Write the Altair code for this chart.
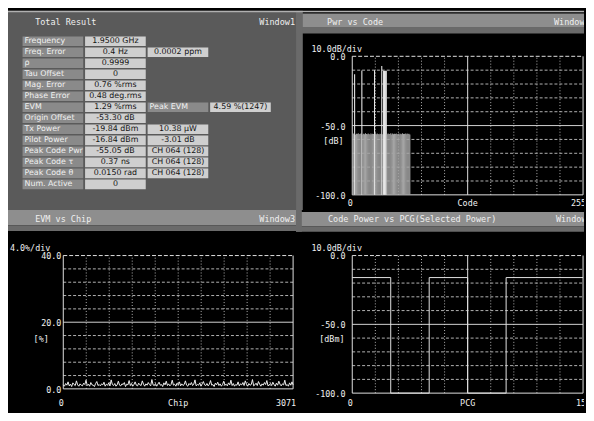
import altair as alt
import pandas as pd
import numpy as np

# ---------------- data ----------------
TABLE_LABELS = ["Frequency", "Freq. Error", "ρ", "Tau Offset", "Mag. Error", "Phase Error",
                "EVM", "Origin Offset", "Tx Power", "Pilot Power", "Peak Code Pwr",
                "Peak Code τ", "Peak Code θ", "Num. Active"]
TABLE_VALUES = ["1.9500 GHz", "0.4 Hz", "0.9999", "0", "0.76 %rms", "0.48 deg.rms",
                "1.29 %rms", "-53.30 dB", "-19.84 dBm", "-16.84 dBm", "-55.05 dB",
                "0.37 ns", "0.0150 rad", "0"]
TABLE_EXTRA = ["", "0.0002 ppm", "", "", "", "", "Peak EVM", "", "10.38 μW", "-3.01 dB",
               "CH 064 (128)", "CH 064 (128)", "CH 064 (128)", ""]
TABLE_EXTRA2 = ["", "", "", "", "", "", "4.59 %(1247)", "", "", "", "", "", "", ""]

CDP_DOMAIN = [0, 255]
CDP_YDOMAIN = [-100, 0]
CDP_DB = [
    -56.2, -55.8, -13.0, -56.5, -55.9, -56.1, -55.6, -56.3, -56.0, -55.7, -10.2, -56.4, -55.9, -56.2, -55.5, -56.1,
    -56.3, -55.8, -56.0, -56.6, -55.7, -56.2, -55.9, -56.1, -10.0, -55.6, -56.3, -55.8, -56.0, -56.4, -55.9, -56.1,
    -7.0, -56.2, -10.5, -10.6, -10.5, -10.4, -56.3, -55.7, -56.1, -56.0, -55.6, -56.4, -55.8, -56.2, -55.9, -56.1,
    -55.7, -56.3, -56.0, -55.8, -56.5, -55.9, -56.2, -55.6, -56.1, -56.0, -55.8, -56.3, -55.7, -56.1, -55.9, -56.4,
]

EVM_DOMAIN = [0, 3071]
EVM_YDOMAIN = [0, 40]
EVM_PCT = [
    1.2, 0.8, 1.6, 1.1, 2.1, 0.9, 1.4, 0.7, 1.8, 1.3, 1.0, 2.4, 1.2, 0.8, 1.5, 1.1,
    0.9, 1.7, 1.3, 2.6, 1.0, 1.4, 0.8, 1.9, 1.2, 1.1, 0.7, 1.6, 2.2, 1.0, 1.3, 0.9,
    1.5, 1.2, 2.0, 0.8, 1.4, 1.1, 1.8, 0.9, 2.7, 1.3, 1.0, 1.6, 0.8, 1.2, 2.3, 1.1,
    0.9, 1.5, 1.3, 1.9, 0.7, 1.4, 1.2, 2.5, 1.0, 1.6, 0.8, 1.3, 2.1, 1.1, 0.9, 1.7,
    1.2, 1.0, 2.4, 1.4, 0.8, 1.5, 1.1, 1.9, 1.3, 0.9, 2.8, 1.2, 1.0, 1.6, 0.8, 1.4,
    2.0, 1.1, 1.3, 0.7, 1.8, 1.2, 2.3, 1.0, 1.5, 0.9, 1.3, 2.6, 1.1, 1.4, 0.8, 1.7,
    1.2, 2.1, 0.9, 1.5, 1.0, 1.3, 2.4, 1.1, 0.8, 1.6, 1.2, 1.9, 1.0, 1.4, 2.7, 0.9,
    1.3, 1.1, 1.8, 0.8, 1.5, 2.2, 1.2, 1.0, 1.6, 0.9, 1.4, 2.5, 1.1, 1.3, 0.7, 1.7,
    1.2, 2.0, 1.0, 1.5, 0.8, 1.3, 2.3, 1.1, 1.4, 0.9, 1.8, 1.2, 2.6, 1.0, 1.6, 0.8,
    1.3, 1.1, 2.1, 0.9, 1.5, 1.2, 1.9, 1.0, 2.4, 1.4, 0.8, 1.6, 1.1, 1.3, 2.8, 0.9,
    1.2, 1.7, 1.0, 2.2, 1.4, 0.8, 1.5, 1.1, 1.9, 1.3, 2.5, 0.9, 1.2, 1.6, 1.0, 2.0,
    1.3, 0.8, 1.7, 1.1, 2.3, 1.4, 0.9, 1.5, 1.2, 2.6, 1.0, 1.3, 0.8, 1.8, 1.1, 2.1,
    1.2,
]
EVM_CHIPS = [i * 16 for i in range(len(EVM_PCT) - 1)] + [3071]

PCG_DOMAIN = [0, 15]
PCG_YDOMAIN = [-100, 0]
PCG_X = [0, 2.5, 2.5, 5, 5, 7.5, 7.5, 10, 10, 15]
PCG_DBM = [-16, -16, -100, -100, -16, -16, -100, -100, -16, -16]

# ---------------- layout / style ----------------
W, H = 584, 405
SX, SY = W / 594, H / 421
PWL = round(297 * SX)
PWR = W - PWL
PHT = round(210 * SY)
PHB = H - PHT

MONO = "DejaVu Sans Mono"
SANS = "DejaVu Sans"
BLACK = "#000000"
DITHER = "#5a5a5a"
HEADER = "#8e8e8e"
HEADER_LOW = "#6a6a6a"
STRIP = "#6a6a6a"
LABEL_CELL = "#8a8a8a"
VALUE_CELL = "#cfcfcf"
TEXT_DARK = "#151515"
WHITE = "#f0f0f0"
GRID_IN = "#b4b4b4"
GRID_EDGE = "#e2e2e2"
HEAD_SIZE = 8.6
TABLE_SIZE = 8

ONE = pd.DataFrame({"k": [0]})


def rect(x0, x1, y0, y1, color):
    return alt.Chart(ONE).mark_rect(color=color).encode(
        x=alt.value(x0), x2=alt.value(x1), y=alt.value(y0), y2=alt.value(y1))


def txt(s, x, y, align="left", size=8.5, font=MONO, color=WHITE, clip=False):
    kw = dict(text=s, align=align, baseline="middle", fontSize=size, font=font, color=color)
    if clip:
        kw["clip"] = True
    return alt.Chart(ONE).mark_text(**kw).encode(x=alt.value(x), y=alt.value(y))


def vrules(vals, ydom, xs, ys, color, dash=None):
    df = pd.DataFrame({"x": vals, "y": ydom[0], "y2": ydom[1]})
    kw = dict(color=color, strokeWidth=1)
    if dash:
        kw["strokeDash"] = dash
    return alt.Chart(df).mark_rule(**kw).encode(
        x=alt.X("x:Q", scale=xs, axis=None), y=alt.Y("y:Q", scale=ys, axis=None), y2="y2:Q")


def hrules(vals, xdom, xs, ys, color, dash=None):
    df = pd.DataFrame({"y": vals, "x": xdom[0], "x2": xdom[1]})
    kw = dict(color=color, strokeWidth=1)
    if dash:
        kw["strokeDash"] = dash
    return alt.Chart(df).mark_rule(**kw).encode(
        y=alt.Y("y:Q", scale=ys, axis=None), x=alt.X("x:Q", scale=xs, axis=None), x2="x2:Q")


def grid(xdom, ydom, xs, ys, vcenter_solid):
    xt = list(np.linspace(xdom[0], xdom[1], 11))
    yt = list(np.linspace(ydom[0], ydom[1], 11))
    vin = [v for i, v in enumerate(xt[1:10], 1) if not (vcenter_solid and i == 5)]
    hin = [v for i, v in enumerate(yt[1:10], 1) if i != 5]
    layers = [
        vrules(vin, ydom, xs, ys, GRID_IN, [1, 2]),
        hrules(hin, xdom, xs, ys, GRID_IN, [3, 2]),
        hrules([yt[5]], xdom, xs, ys, "#d4d4d4"),
        hrules([ydom[1]], xdom, xs, ys, GRID_EDGE, [4, 2]),
        hrules([ydom[0]], xdom, xs, ys, GRID_EDGE),
        vrules([xdom[0], xdom[1]], ydom, xs, ys, GRID_EDGE),
    ]
    if vcenter_solid:
        layers.append(vrules([xt[5]], ydom, xs, ys, "#e0e0e0"))
    return layers


def ylabels(vals, texts, x, ys):
    df = pd.DataFrame({"v": vals, "t": texts})
    return alt.Chart(df).mark_text(align="right", baseline="middle", font=MONO, fontSize=8.5,
                                   color=WHITE, dy=1).encode(
        y=alt.Y("v:Q", scale=ys, axis=None), x=alt.value(x), text="t:N")


def xlabels(vals, texts, y, xs):
    out = []
    specs = [dict(align="center", dx=-2), dict(align="center"), dict(align="right", dx=3, clip=True)]
    for v, t, sp in zip(vals, texts, specs):
        df = pd.DataFrame({"v": [v], "t": [t]})
        out.append(alt.Chart(df).mark_text(baseline="middle", font=MONO, fontSize=8.5,
                                           color=WHITE, **sp).encode(
            x=alt.X("v:Q", scale=xs, axis=None), y=alt.value(y), text="t:N"))
    return out


# ---------------- panel 1 : Total Result ----------------
def fx1(rx):
    return rx * SX


def fy1(ry):
    return ry * SY


cells, labels, values = [], [], []
for i in range(len(TABLE_LABELS)):
    cells.append({"row": i, "col": "c0", "kind": "label"})
    labels.append({"row": i, "col": "c0", "t": TABLE_LABELS[i]})
    cells.append({"row": i, "col": "c1", "kind": "value"})
    values.append({"row": i, "col": "c1", "t": TABLE_VALUES[i]})
    if TABLE_EXTRA[i]:
        if TABLE_EXTRA2[i]:
            cells.append({"row": i, "col": "c2", "kind": "label"})
            labels.append({"row": i, "col": "c2", "t": TABLE_EXTRA[i]})
            cells.append({"row": i, "col": "c3", "kind": "value"})
            values.append({"row": i, "col": "c3", "t": TABLE_EXTRA2[i]})
        else:
            cells.append({"row": i, "col": "c2", "kind": "value"})
            values.append({"row": i, "col": "c2", "t": TABLE_EXTRA[i]})

row_scale = alt.Scale(type="band", domain=list(range(len(TABLE_LABELS))),
                      range=[fy1(27), fy1(188)], paddingInner=0.12, paddingOuter=0)
col_scale = alt.Scale(type="band", domain=["c0", "c1", "c2", "c3"],
                      range=[fx1(15), fx1(271)], paddingInner=0.03, paddingOuter=0)

table_cells = alt.Chart(pd.DataFrame(cells)).mark_rect().encode(
    x=alt.X("col:N", scale=col_scale, axis=None),
    y=alt.Y("row:O", scale=row_scale, axis=None),
    color=alt.Color("kind:N", scale=alt.Scale(domain=["label", "value"],
                                              range=[LABEL_CELL, VALUE_CELL]), legend=None))
table_labels = alt.Chart(pd.DataFrame(labels)).mark_text(
    align="left", baseline="middle", dx=2, font=SANS, fontSize=TABLE_SIZE, color=WHITE).encode(
    x=alt.X("col:N", scale=col_scale, axis=None, bandPosition=0),
    y=alt.Y("row:O", scale=row_scale, axis=None, bandPosition=0.5),
    text="t:N")
table_values = alt.Chart(pd.DataFrame(values)).mark_text(
    align="center", baseline="middle", font=SANS, fontSize=TABLE_SIZE, color=TEXT_DARK).encode(
    x=alt.X("col:N", scale=col_scale, axis=None, bandPosition=0.5),
    y=alt.Y("row:O", scale=row_scale, axis=None, bandPosition=0.5),
    text="t:N")

p1 = alt.layer(
    rect(0, PWL, 0, PHT, DITHER),
    rect(0, PWL, 0, fy1(1.5), "#b0b0b0"),
    txt("Total Result", fx1(28), fy1(12), size=HEAD_SIZE),
    txt("Window1", PWL - 1, fy1(12), align="right", size=HEAD_SIZE),
    table_cells, table_labels, table_values,
).properties(width=PWL, height=PHT)


# ---------------- panel 2 : code domain ----------------
def fx2(rx):
    return (rx - 297) * SX


def fy2(ry):
    return ry * SY


xs2 = alt.Scale(domain=CDP_DOMAIN, range=[fx2(355), fx2(593)], nice=False, zero=False)
ys2 = alt.Scale(domain=CDP_YDOMAIN, range=[fy2(194), fy2(48)], nice=False, zero=False)
cdp_df = pd.DataFrame({"code": list(range(len(CDP_DB))), "db": CDP_DB})
cdp_df["code2"] = cdp_df["code"] + 1.2
cdp_df["base"] = CDP_YDOMAIN[0]
bars = alt.Chart(cdp_df).mark_rect().encode(
    x=alt.X("code:Q", scale=xs2, axis=None), x2="code2:Q",
    y=alt.Y("db:Q", scale=ys2, axis=None), y2="base:Q",
    color=alt.condition(alt.datum.db > -40, alt.value("#e6e6e6"), alt.value("#a4a4a4")))

p2 = alt.layer(
    rect(0, PWR, 0, PHT, BLACK),
    rect(0, PWR, fy2(3), fy2(18), HEADER),
    rect(0, PWR, fy2(18), fy2(24), HEADER_LOW),
    rect(0, fx2(304), 0, PHT, STRIP),
    rect(0, PWR, 0, fy2(1.5), "#b0b0b0"),
    txt("Pwr vs Code", fx2(329), fy2(11.5), size=HEAD_SIZE),
    txt("Window2", fx2(563), fy2(11.5), size=HEAD_SIZE, clip=True),
    txt("10.0dB/div", fx2(313), fy2(40)),
    txt("[dB]", fx2(346), fy2(137), align="right"),
    *grid(CDP_DOMAIN, CDP_YDOMAIN, xs2, ys2, True),
    bars,
    ylabels([0, -50, -100], ["0.0", "-50.0", "-100.0"], fx2(348), ys2),
    *xlabels([0, 127.5, 255], ["0", "Code", "255"], fy2(203), xs2),
).properties(width=PWR, height=PHT)


# ---------------- panel 3 : EVM vs chip ----------------
def fx3(rx):
    return rx * SX


def fy3(ry):
    return (ry - 210) * SY


xs3 = alt.Scale(domain=EVM_DOMAIN, range=[fx3(57), fx3(294)], nice=False, zero=False)
ys3 = alt.Scale(domain=EVM_YDOMAIN, range=[fy3(398.5), fy3(258)], nice=False, zero=False)
evm_line = alt.Chart(pd.DataFrame({"chip": EVM_CHIPS, "pct": EVM_PCT})).mark_line(
    color=WHITE, strokeWidth=1).encode(
    x=alt.X("chip:Q", scale=xs3, axis=None), y=alt.Y("pct:Q", scale=ys3, axis=None))

p3 = alt.layer(
    rect(0, PWL, 0, PHB, BLACK),
    rect(0, PWL, 0, fy3(226), HEADER),
    rect(0, PWL, fy3(226), fy3(232), HEADER_LOW),
    txt("EVM vs Chip", fx3(28), fy3(219), size=HEAD_SIZE),
    txt("Window3", PWL - 1, fy3(219), align="right", size=HEAD_SIZE),
    txt("4.0%/div", fx3(2), fy3(250)),
    txt("[%]", fx3(42), fy3(346), align="right"),
    *grid(EVM_DOMAIN, EVM_YDOMAIN, xs3, ys3, False),
    evm_line,
    ylabels([40, 20, 0], ["40.0", "20.0", "0.0"], fx3(55), ys3),
    *xlabels([0, 1535.5, 3071], ["0", "Chip", "3071"], fy3(413), xs3),
).properties(width=PWL, height=PHB)


# ---------------- panel 4 : code power vs PCG ----------------
def fx4(rx):
    return (rx - 297) * SX


def fy4(ry):
    return (ry - 210) * SY


xs4 = alt.Scale(domain=PCG_DOMAIN, range=[fx4(355), fx4(593)], nice=False, zero=False)
ys4 = alt.Scale(domain=PCG_YDOMAIN, range=[fy4(403), fy4(258)], nice=False, zero=False)
pcg_line = alt.Chart(pd.DataFrame({"pcg": PCG_X, "dbm": PCG_DBM, "o": list(range(len(PCG_X)))})).mark_line(
    color="#e4e4e4", strokeWidth=1).encode(
    x=alt.X("pcg:Q", scale=xs4, axis=None), y=alt.Y("dbm:Q", scale=ys4, axis=None),
    order="o:Q")

p4 = alt.layer(
    rect(0, PWR, 0, PHB, BLACK),
    rect(0, PWR, fy4(212), fy4(227), HEADER),
    rect(0, PWR, fy4(227), fy4(233), HEADER_LOW),
    rect(0, fx4(303), 0, fy4(233), STRIP),
    txt("Code Power vs PCG(Selected Power)", fx4(330), fy4(220), size=HEAD_SIZE),
    txt("Window4", fx4(565), fy4(220), size=HEAD_SIZE, clip=True),
    txt("10.0dB/div", fx4(313), fy4(250)),
    txt("[dBm]", fx4(347), fy4(346), align="right"),
    *grid(PCG_DOMAIN, PCG_YDOMAIN, xs4, ys4, True),
    pcg_line,
    ylabels([0, -50, -100], ["0.0", "-50.0", "-100.0"], fx4(348), ys4),
    *xlabels([0, 7.5, 15], ["0", "PCG", "15"], fy4(413), xs4),
).properties(width=PWR, height=PHB)

top = alt.hconcat(p1, p2, spacing=0, bounds="flush")
bottom = alt.hconcat(p3, p4, spacing=0, bounds="flush")
chart = alt.vconcat(top, bottom, spacing=0).properties(
    padding=0, background=BLACK
).configure_view(stroke="transparent", strokeWidth=0)

chart.save("out.html", embed_options={"renderer": "svg", "actions": False})
